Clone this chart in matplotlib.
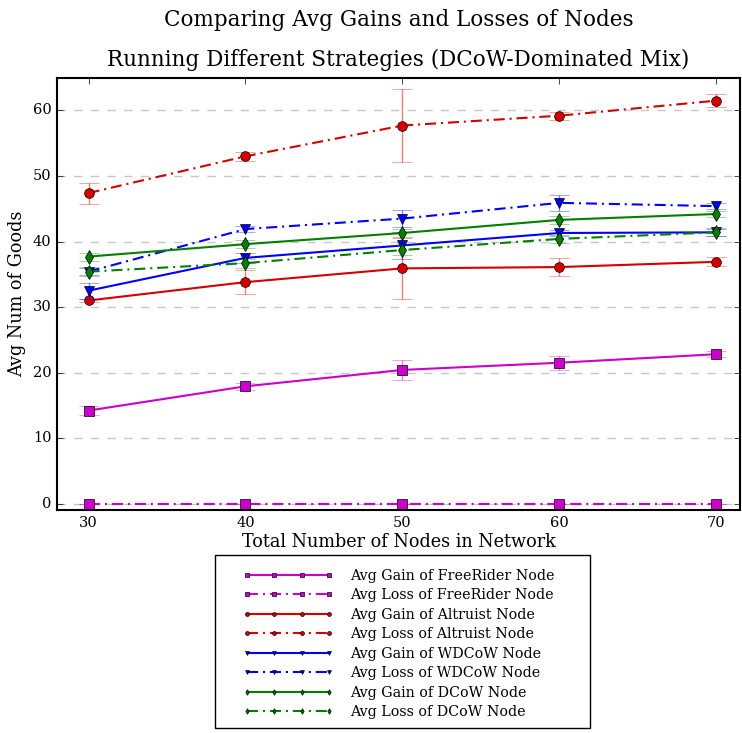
import matplotlib
matplotlib.use('Agg')
import matplotlib.pyplot as plt
from matplotlib.patches import Rectangle

plt.style.use('classic')
plt.rcParams['font.family'] = ['DejaVu Serif']

nodes = [30, 40, 50, 60, 70]

fr_gain = [14.2, 17.9, 20.4, 21.5, 22.8]
fr_gain_err = [0.7, 0.5, 1.5, 1.1, 0.5]
fr_loss = [0, 0, 0, 0, 0]
fr_loss_err = [0, 0, 0, 0, 0]

al_gain = [31.0, 33.8, 35.9, 36.1, 36.9]
al_gain_err = [0.3, 1.8, 4.7, 1.4, 0.7]
al_loss = [47.4, 53.0, 57.7, 59.2, 61.5]
al_loss_err = [1.6, 0.7, 5.6, 0.6, 1.0]

wd_gain = [32.5, 37.5, 39.4, 41.3, 41.4]
wd_gain_err = [1.2, 0.8, 2.0, 0.5, 0.5]
wd_loss = [35.4, 41.9, 43.5, 45.9, 45.4]
wd_loss_err = [0.5, 0.5, 1.3, 1.2, 0.5]

dc_gain = [37.7, 39.6, 41.3, 43.3, 44.2]
dc_gain_err = [0.6, 0.6, 0.6, 0.6, 0.5]
dc_loss = [35.4, 36.7, 38.7, 40.4, 41.4]
dc_loss_err = [0.7, 0.7, 0.7, 0.6, 0.6]

MAG = '#cc00cc'
RED = '#d50000'
BLUE = '#0000ff'
GREEN = '#007f00'

series = [
    (fr_gain, fr_gain_err, MAG, 's', '-', 'Avg Gain of FreeRider Node'),
    (fr_loss, fr_loss_err, MAG, 's', '-.', 'Avg Loss of FreeRider Node'),
    (al_gain, al_gain_err, RED, 'o', '-', 'Avg Gain of Altruist Node'),
    (al_loss, al_loss_err, RED, 'o', '-.', 'Avg Loss of Altruist Node'),
    (wd_gain, wd_gain_err, BLUE, 'v', '-', 'Avg Gain of WDCoW Node'),
    (wd_loss, wd_loss_err, BLUE, 'v', '-.', 'Avg Loss of WDCoW Node'),
    (dc_gain, dc_gain_err, GREEN, 'd', '-', 'Avg Gain of DCoW Node'),
    (dc_loss, dc_loss_err, GREEN, 'd', '-.', 'Avg Loss of DCoW Node'),
]

fig = plt.figure(figsize=(7.42, 7.33), dpi=100, facecolor='white')
ax = fig.add_axes([0.077, 0.304, 0.92, 0.59])

handles = []
for vals, errs, col, mk, ls, lab in series:
    ax.errorbar(nodes, vals, yerr=errs, fmt='none', ecolor=col, alpha=0.5,
                capsize=7, elinewidth=1)
    h, = ax.plot(nodes, vals, color=col, marker=mk, linestyle=ls, linewidth=1.5,
                 markersize=7, markeredgecolor='k', label=lab)
    if ls == '-.':
        h.set_dashes((8, 3.5, 1.5, 3.5))
    handles.append(h)

for s in ax.spines.values():
    s.set_linewidth(1.5)

ax.set_xlim(28, 71.5)
ax.set_ylim(-1, 65)
ax.set_xticks(nodes)
ax.set_yticks([0, 10, 20, 30, 40, 50, 60])
ax.yaxis.grid(True, linestyle='--', color='0.78', linewidth=1)
ax.set_axisbelow(True)
ax.tick_params(labelsize=10.5)
ax.set_xlabel('Total Number of Nodes in Network', fontsize=12.7, labelpad=2)
ax.set_ylabel('Avg Num of Goods', fontsize=12.7)
ax.set_title('Comparing Avg Gains and Losses of Nodes\n'
             'Running Different Strategies (DCoW-Dominated Mix)',
             fontsize=15.5, linespacing=2.05, y=1.012)

# legend frame drawn separately so the text sits off-center like the original
fig.patches.append(Rectangle((215 / 742, 1 - 728 / 733), 375 / 742, 173 / 733,
                             transform=fig.transFigure, fill=False,
                             edgecolor='k', linewidth=1))
fig.legend(handles=handles, loc='upper left',
           bbox_to_anchor=(243 / 742, 1 - 569 / 733),
           numpoints=4, markerscale=0.4, fontsize=10.3, handlelength=6.3,
           handletextpad=1.2, frameon=False, labelspacing=0.38,
           borderpad=0, borderaxespad=0)

fig.savefig('out.png', dpi=100, facecolor='white')
